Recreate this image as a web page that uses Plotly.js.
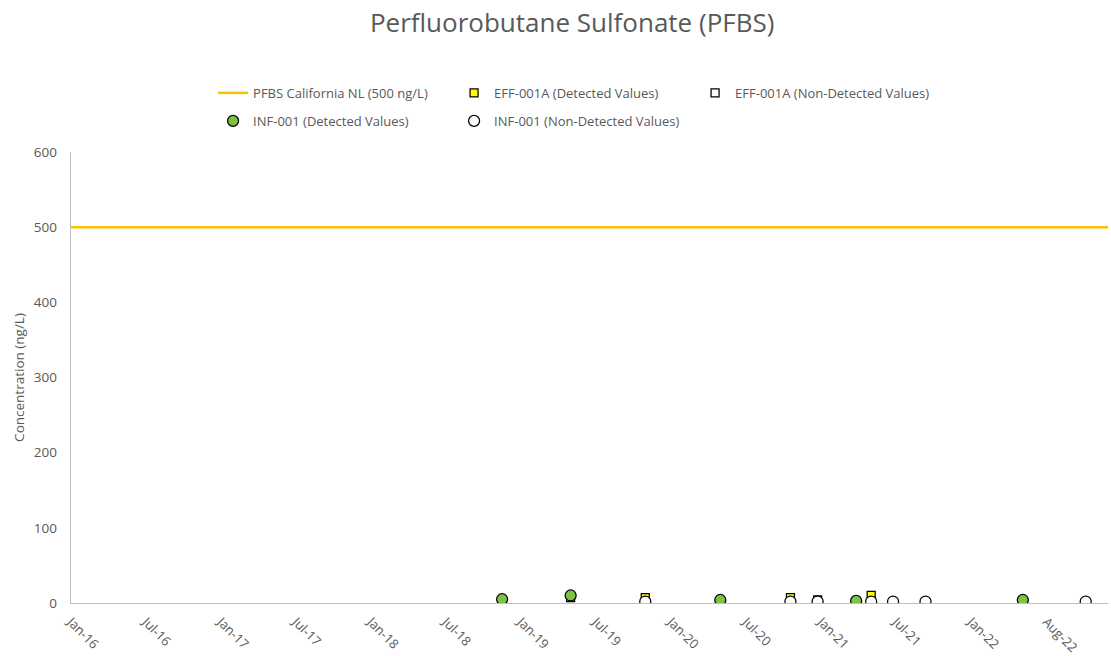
<!DOCTYPE html>
<html>
<head>
<meta charset="utf-8">
<script src="https://cdn.plot.ly/plotly-3.0.1.min.js"></script>
<style>html,body{margin:0;padding:0;background:#fff;}#chart{width:1111px;height:656px;}</style>
</head>
<body>
<div id="chart"></div>
<script>
// Notification level line
var nlDates = ['2016-01-01', '2023-01-01'];
var nlValues = [500, 500];

// EFF-001A detected values
var effDetDates = ['2018-11-29', '2019-05-17', '2019-11-17', '2020-11-09', '2021-05-27'];
var effDetValues = [3, 7, 7, 7, 10];

// EFF-001A non-detected values
var effNdDates = ['2021-01-15'];
var effNdValues = [4];

// INF-001 detected values
var infDetDates = ['2018-11-29', '2019-05-17', '2020-05-20', '2021-04-20', '2022-06-05'];
var infDetValues = [5, 10, 4, 3, 4];

// INF-001 non-detected values
var infNdDates = ['2019-11-17', '2020-11-09', '2021-01-15', '2021-05-27', '2021-07-20', '2021-10-08', '2022-11-07'];
var infNdValues = [2, 2, 2, 2, 2, 2, 2];

// x-axis ticks
var tickDates = ['2016-01-01', '2016-07-04', '2017-01-05', '2017-07-09', '2018-01-10', '2018-07-14', '2019-01-15',
                 '2019-07-19', '2020-01-20', '2020-07-23', '2021-01-24', '2021-07-28', '2022-01-29', '2022-08-02'];
var tickLabels = ['Jan-16', 'Jul-16', 'Jan-17', 'Jul-17', 'Jan-18', 'Jul-18', 'Jan-19',
                  'Jul-19', 'Jan-20', 'Jul-20', 'Jan-21', 'Jul-21', 'Jan-22', 'Aug-22'];

var FONT = 'Open Sans, Noto Sans, sans-serif';
var GREY = '#595959';

var traces = [
  {x: nlDates, y: nlValues, type: 'scatter', mode: 'lines', name: 'PFBS California NL (500 ng/L)',
   line: {color: '#ffc000', width: 2.5}, legend: 'legend'},
  {x: effDetDates, y: effDetValues, type: 'scatter', mode: 'markers', name: 'EFF-001A (Detected Values)',
   marker: {symbol: 'square', size: 8, color: '#ffff00', line: {color: '#000000', width: 1.25}}, legend: 'legend'},
  {x: effNdDates, y: effNdValues, type: 'scatter', mode: 'markers', name: 'EFF-001A (Non-Detected Values)',
   marker: {symbol: 'square', size: 8, color: '#ffffff', line: {color: '#000000', width: 1.25}}, legend: 'legend'},
  {x: infDetDates, y: infDetValues, type: 'scatter', mode: 'markers', name: 'INF-001 (Detected Values)',
   marker: {symbol: 'circle', size: 11, color: '#7dc242', line: {color: '#000000', width: 1.25}}, legend: 'legend2'},
  {x: infNdDates, y: infNdValues, type: 'scatter', mode: 'markers', name: 'INF-001 (Non-Detected Values)',
   marker: {symbol: 'circle', size: 11, color: '#ffffff', line: {color: '#000000', width: 1.25}}, legend: 'legend2'}
];

var legendCommon = {
  orientation: 'h', xanchor: 'left', yanchor: 'middle',
  font: {family: FONT, size: 13, color: GREY},
  entrywidth: 196, bgcolor: 'rgba(0,0,0,0)', itemsizing: 'trace', traceorder: 'normal'
};

var layout = {
  width: 1111, height: 656,
  margin: {l: 71, r: 3, t: 152, b: 53},
  paper_bgcolor: '#ffffff', plot_bgcolor: '#ffffff',
  font: {family: FONT, color: GREY},
  title: {text: 'Perfluorobutane Sulfonate (PFBS)', font: {family: FONT, size: 26, color: GREY},
          x: 0.515, xanchor: 'center', y: 0.965, yanchor: 'middle'},
  xaxis: {
    type: 'date', range: ['2016-01-01', '2023-01-01'],
    tickmode: 'array', tickvals: tickDates, ticktext: tickLabels, tickangle: 45,
    tickfont: {family: FONT, size: 13, color: GREY},
    showgrid: false, zeroline: false, showline: true, linecolor: '#bfbfbf', linewidth: 1.3,
    ticks: '', ticklabelstandoff: 5, fixedrange: true
  },
  yaxis: {
    range: [0, 600], dtick: 100, tick0: 0,
    tickfont: {family: FONT, size: 13.5, color: GREY},
    ticklabelstandoff: 10,
    title: {text: 'Concentration (ng/L)', font: {family: FONT, size: 13.5, color: GREY}, standoff: 6},
    showgrid: false, zeroline: false, showline: true, linecolor: '#bfbfbf', linewidth: 1.3,
    ticks: '', ticklen: 0, fixedrange: true
  },
  legend: Object.assign({}, legendCommon, {x: 0.137, y: 1.131}),
  legend2: Object.assign({}, legendCommon, {x: 0.137, y: 1.069}),
  showlegend: true
};

Plotly.newPlot('chart', traces, layout, {displayModeBar: false, staticPlot: true});
</script>
</body>
</html>
